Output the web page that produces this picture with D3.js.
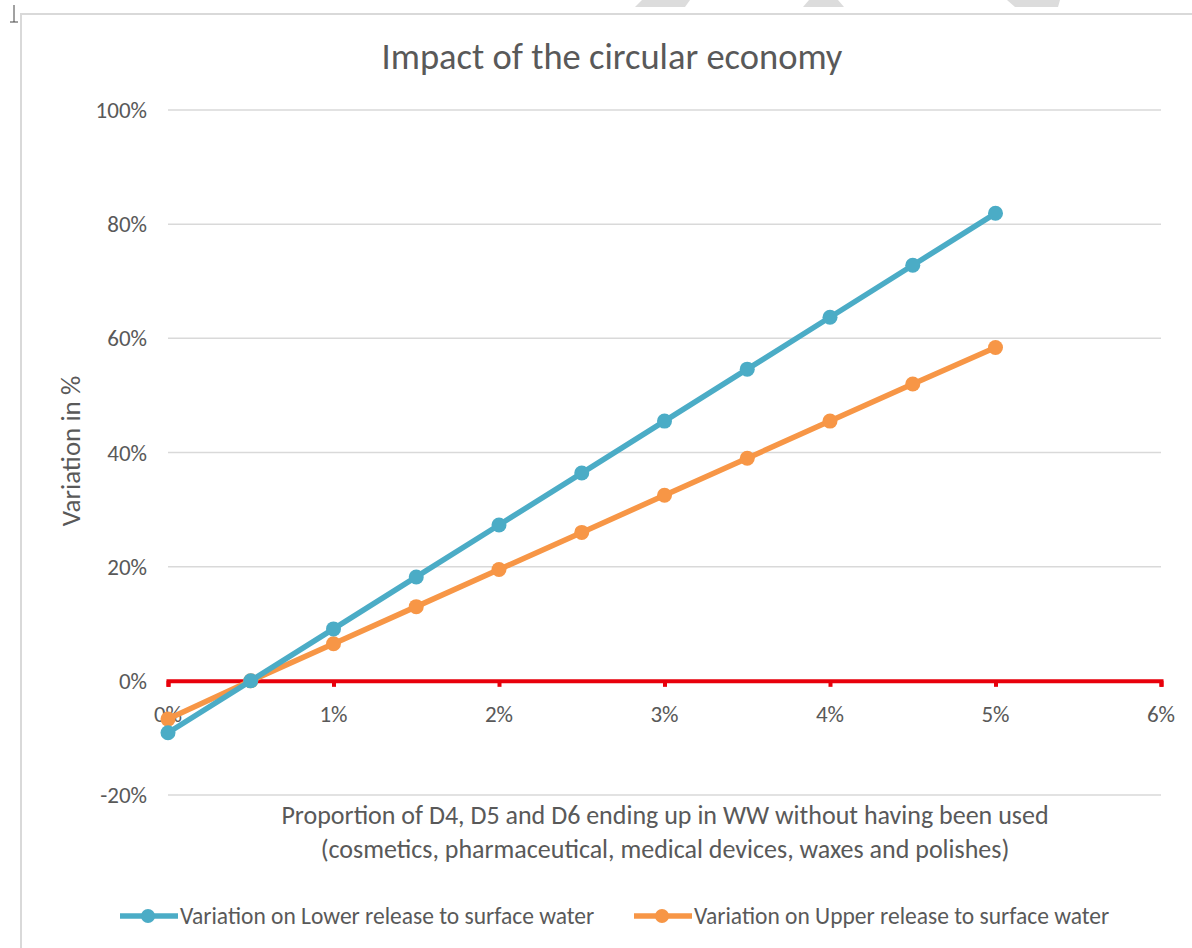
<!DOCTYPE html>
<html>
  <head>
    <meta charset="utf-8">
    <script src="https://d3js.org/d3.v7.min.js"></script>
    <style>
      body { margin: 0; background: #fff; }
      svg text { font-family: Carlito, Lato, "Open Sans", sans-serif; fill: #595959; }
    </style>
  </head>
<body>
<script>
  // data
  var proportions = [0, 0.005, 0.01, 0.015, 0.02, 0.025, 0.03, 0.035, 0.04, 0.045, 0.05];
  var lowerRelease = [-0.091, 0, 0.091, 0.182, 0.273, 0.364, 0.455, 0.546, 0.637, 0.728, 0.819];
  var upperRelease = [-0.067, 0, 0.065, 0.130, 0.195, 0.260, 0.325, 0.390, 0.455, 0.520, 0.584];
  var xTicks = [0, 0.01, 0.02, 0.03, 0.04, 0.05, 0.06];
  var yTicks = [-0.2, 0, 0.2, 0.4, 0.6, 0.8, 1.0];
  var seriesNames = ["Variation on Lower release to surface water", "Variation on Upper release to surface water"];
  var seriesColors = ["#4bacc6", "#f79646"];

  var width = 1192, height = 948;
  var svg = d3.select("body").append("svg")
      .attr("width", width)
      .attr("height", height);

  // bits of the page around the chart
  svg.append("g").selectAll("path")
    .data([[[642,0],[690,0],[685,7],[635,7]], [[809,0],[838,0],[844,7],[803,7]], [[1007,0],[1060,0],[1058,7],[1015,7]]])
    .enter().append("path")
      .attr("d", function(d) { return "M" + d.join("L") + "Z"; })
      .attr("fill", "#dcdcdc");
  svg.append("path").attr("d", "M21,948V14H1192").attr("fill", "none").attr("stroke", "#d9d9d9").attr("stroke-width", 2);
  svg.append("path").attr("d", "M14,5V22M10,22H18").attr("fill", "none").attr("stroke", "#444").attr("stroke-width", 1);

  var x = d3.scaleLinear().domain([0, 0.06]).range([168, 1161]);
  var y = d3.scaleLinear().domain([-0.2, 1.0]).range([795, 110]);
  var pct = function(d) { return d3.format(".0%")(d).replace("\u2212", "-"); };

  // gridlines
  svg.append("g").selectAll("line")
    .data(yTicks.filter(function(d) { return d !== 0; }))
    .enter().append("line")
      .attr("x1", x(0)).attr("x2", x(0.06))
      .attr("y1", function(d) { return y(d); })
      .attr("y2", function(d) { return y(d); })
      .attr("stroke", "#d9d9d9")
      .attr("stroke-width", 1.5);

  // y tick labels
  svg.append("g").selectAll("text")
    .data(yTicks)
    .enter().append("text")
      .attr("x", 147)
      .attr("y", function(d) { return y(d) + 8; })
      .attr("text-anchor", "end")
      .style("font-size", "23px")
      .text(function(d) { return pct(d); });

  // red zero axis with ticks
  var xAxis = svg.append("g")
      .attr("transform", "translate(0," + y(0) + ")")
      .call(d3.axisBottom(x).tickValues(xTicks).tickSize(6).tickFormat(""));
  xAxis.select(".domain").attr("stroke", "#e8000b").attr("stroke-width", 4);
  xAxis.selectAll(".tick line").attr("stroke", "#e8000b").attr("stroke-width", 4);

  svg.append("g").selectAll("text")
    .data(xTicks)
    .enter().append("text")
      .attr("x", function(d) { return x(d); })
      .attr("y", y(0) + 41)
      .attr("text-anchor", "middle")
      .style("font-size", "23px")
      .text(function(d) { return pct(d); });

  // series
  var line = d3.line()
      .x(function(d) { return x(d[0]); })
      .y(function(d) { return y(d[1]); });

  [upperRelease, lowerRelease].forEach(function(vals) {
    var i = vals === lowerRelease ? 0 : 1;
    var pts = proportions.map(function(p, k) { return [p, vals[k]]; });
    var g = svg.append("g");
    g.append("path")
      .datum(pts)
      .attr("d", line)
      .attr("fill", "none")
      .attr("stroke", seriesColors[i])
      .attr("stroke-width", 5.5)
      .attr("stroke-linejoin", "round");
    g.selectAll("circle")
      .data(pts)
      .enter().append("circle")
        .attr("cx", function(d) { return x(d[0]); })
        .attr("cy", function(d) { return y(d[1]); })
        .attr("r", 7.5)
        .attr("fill", seriesColors[i]);
  });

  // titles
  svg.append("text")
    .attr("x", 612).attr("y", 69)
    .attr("text-anchor", "middle")
    .style("font-size", "36.5px")
    .text("Impact of the circular economy");

  svg.append("text")
    .attr("transform", "translate(80,451) rotate(-90)")
    .attr("text-anchor", "middle")
    .style("font-size", "27px")
    .text("Variation in %");

  var xTitle = svg.append("text")
    .attr("text-anchor", "middle")
    .style("font-size", "26px");
  xTitle.append("tspan").attr("x", 665).attr("y", 824)
    .text("Proportion of D4, D5 and D6 ending up in WW without having been used");
  xTitle.append("tspan").attr("x", 665).attr("y", 858)
    .text("(cosmetics, pharmaceutical, medical devices, waxes and polishes)");

  // legend
  var legend = svg.append("g").selectAll("g")
    .data(seriesNames)
    .enter().append("g")
      .attr("transform", function(d, i) { return "translate(" + [120, 634][i] + ",916)"; });
  legend.append("line")
    .attr("x1", 0).attr("x2", 58)
    .attr("stroke", function(d, i) { return seriesColors[i]; })
    .attr("stroke-width", 5.5);
  legend.append("circle")
    .attr("cx", 28).attr("r", 7)
    .attr("fill", function(d, i) { return seriesColors[i]; });
  legend.append("text")
    .attr("x", 60).attr("y", 8)
    .style("font-size", "23.5px")
    .text(function(d) { return d; });
</script>
</body>
</html>
